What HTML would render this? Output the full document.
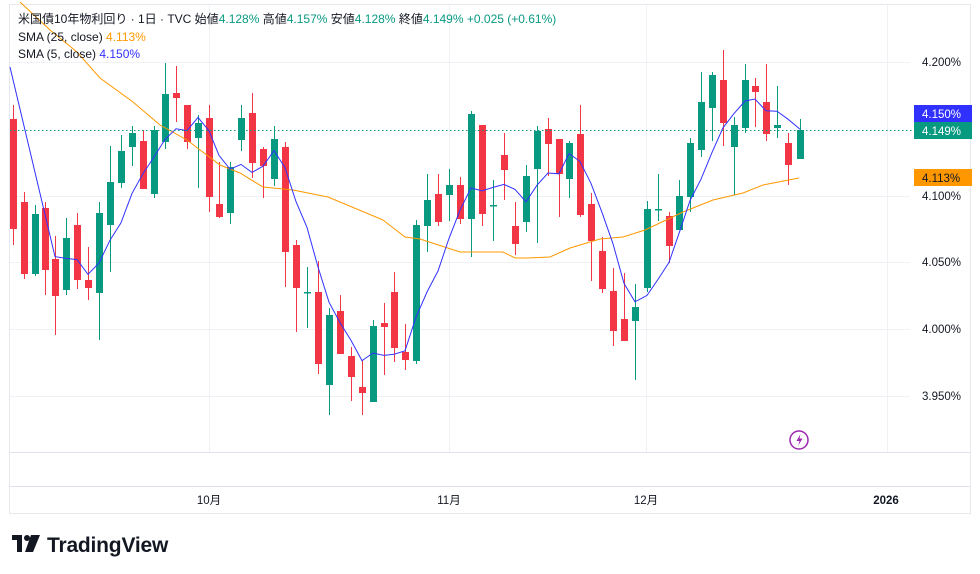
<!DOCTYPE html>
<html><head><meta charset="utf-8">
<style>
html,body{margin:0;padding:0;background:#fff;width:980px;height:574px;overflow:hidden}
svg{display:block}
text{font-family:"Liberation Sans","Noto Sans CJK JP",sans-serif}
</style></head>
<body>
<svg id="s" width="980" height="574" xmlns="http://www.w3.org/2000/svg">
<rect x="9.5" y="4.5" width="961" height="509" fill="#fff" stroke="#e6e8ee"/>
<g stroke="#f0f1f4" stroke-width="1">
<line x1="10" y1="62.5" x2="910" y2="62.5"/>
<line x1="10" y1="196.5" x2="910" y2="196.5"/>
<line x1="10" y1="262.5" x2="910" y2="262.5"/>
<line x1="10" y1="329.5" x2="910" y2="329.5"/>
<line x1="10" y1="396.5" x2="910" y2="396.5"/>
<line x1="209.5" y1="5" x2="209.5" y2="452"/>
<line x1="449.5" y1="5" x2="449.5" y2="452"/>
<line x1="646.5" y1="5" x2="646.5" y2="452"/>
<line x1="887.5" y1="5" x2="887.5" y2="452"/>
</g>
<line x1="10" y1="452.5" x2="970" y2="452.5" stroke="#e0e3eb"/>
<line x1="10" y1="486.5" x2="970" y2="486.5" stroke="#e0e3eb"/>
<g id="c"></g>
<line x1="10" y1="130.5" x2="912" y2="130.5" stroke="#089981" stroke-dasharray="1.5,2.5"/>
<g font-size="11.5" fill="#131722">
<text x="922" y="66">4.200%</text>
<text x="922" y="200">4.100%</text>
<text x="922" y="266">4.050%</text>
<text x="922" y="333">4.000%</text>
<text x="922" y="400">3.950%</text>
</g>
<rect x="914" y="105" width="58" height="17" fill="#3131ff"/>
<text x="922" y="118" font-size="11.5" fill="#fff">4.150%</text>
<rect x="914" y="122" width="58" height="17" fill="#089981"/>
<text x="922" y="135" font-size="11.5" fill="#fff">4.149%</text>
<rect x="914" y="169" width="58" height="17" fill="#ff9800"/>
<text x="922" y="182" font-size="11.5" fill="#131722">4.113%</text>
<circle cx="799" cy="440" r="9" fill="none" stroke="#9c27b0" stroke-width="1.5"/>
<path d="M800.5 434 L796.5 441 L799.5 441 L798 446 L802.5 438.5 L799.5 438.5 Z" fill="#9c27b0"/>
<g font-size="11.5" fill="#131722" text-anchor="middle">
<text x="209" y="504">10月</text>
<text x="449" y="504">11月</text>
<text x="646" y="504">12月</text>
<text x="886" y="504" font-weight="bold">2026</text>
</g>
<g font-size="12">
<text x="18" y="23" fill="#131722">米国債10年物利回り · 1日 · TVC  始値<tspan fill="#089981">4.128%</tspan>  高値<tspan fill="#089981">4.157%</tspan>  安値<tspan fill="#089981">4.128%</tspan>  終値<tspan fill="#089981">4.149%</tspan>  <tspan fill="#089981">+0.025 (+0.61%)</tspan></text>
<text x="18" y="41" fill="#131722">SMA (25, close)  <tspan fill="#ff9800">4.113%</tspan></text>
<text x="18" y="58" fill="#131722">SMA (5, close)  <tspan fill="#3131ff">4.150%</tspan></text>
</g>
<g fill="#131722">
<rect x="12" y="535" width="10" height="5"/>
<rect x="17" y="535" width="5" height="17"/>
<circle cx="27" cy="538" r="3"/>
<path d="M31 535 L40 535 L33 552 L25 552 Z"/>
<text x="47" y="552" font-size="21" font-weight="bold" letter-spacing="-0.2">TradingView</text>
</g>
</svg>
<script>
var d=[[13,119,229,105,245,'r'],[24,202,274,192,279,'r'],[35,214,274,205,276,'g'],[45,208,270,202,295,'r'],[55,259,296,236,335,'r'],[66,238,290,218,295,'g'],[77,225,280,213,289,'r'],[88,280,288,247,300,'r'],[99,213,293,202,340,'g'],[110,182,225,146,272,'g'],[121,151,183,135,188,'g'],[132,133,147,126,166,'g'],[143,141,189,130,189,'r'],[154,130,194,126,198,'g'],[165,94,142,63,149,'g'],[176,93,98,66,122,'r'],[187,105,142,105,149,'r'],[198,123,138,115,188,'g'],[209,118,197,105,212,'r'],[219,204,217,162,218,'r'],[230,167,213,162,224,'g'],[241,118,140,105,151,'g'],[252,113,163,93,178,'r'],[263,149,166,147,198,'r'],[274,139,179,126,186,'g'],[285,147,252,142,287,'r'],[296,245,288,240,332,'r'],[307,292,293,267,328,'g'],[318,292,364,261,374,'r'],[329,315,385,308,415,'g'],[340,311,354,295,354,'r'],[351,356,377,347,401,'r'],[362,387,393,360,415,'r'],[373,326,402,320,402,'g'],[384,323,327,303,375,'r'],[394,292,348,272,362,'r'],[405,352,360,324,370,'r'],[416,225,361,220,364,'g'],[427,200,226,174,252,'g'],[438,194,222,174,226,'r'],[449,185,195,169,221,'g'],[460,185,219,177,224,'r'],[471,114,219,111,257,'g'],[482,125,214,125,226,'r'],[493,205,206,180,241,'g'],[504,155,170,133,200,'r'],[515,226,244,202,255,'r'],[526,176,222,165,232,'g'],[537,131,169,126,243,'g'],[548,129,144,118,176,'r'],[559,139,174,139,217,'r'],[569,143,179,141,198,'g'],[580,134,215,105,217,'r'],[591,204,241,193,281,'r'],[602,251,289,237,293,'r'],[613,291,331,268,346,'r'],[624,319,341,273,341,'r'],[635,307,321,284,380,'g'],[647,209,288,201,292,'g'],[658,209,210,174,221,'g'],[669,216,246,212,263,'r'],[679,196,230,180,230,'g'],[690,143,197,138,212,'g'],[701,102,150,72,157,'g'],[712,75,108,72,141,'g'],[723,80,123,50,146,'r'],[734,125,147,117,195,'g'],[745,80,128,64,133,'g'],[755,86,92,78,127,'r'],[766,102,134,64,141,'r'],[777,125,128,86,138,'g'],[788,143,165,133,185,'r'],[800,130,159,119,159,'g']];
var g=document.getElementById('c'),h='';
d.forEach(function(c){var col=c[5]=='r'?'#f23645':'#089981';
h+='<line x1="'+(c[0]+.5)+'" y1="'+c[3]+'" x2="'+(c[0]+.5)+'" y2="'+c[4]+'" stroke="'+col+'"/>';
h+='<rect x="'+(c[0]-3)+'" y="'+c[1]+'" width="7" height="'+Math.max(1.5,c[2]-c[1])+'" fill="'+col+'"/>';});
var cl=d.map(function(c){return c[5]=='r'?c[2]:c[1];});
var p='10,67';
for(var i=4;i<d.length;i++){var s=0;for(var j=i-4;j<=i;j++)s+=cl[j];p+=' '+d[i][0]+','+(s/5).toFixed(1);}
var o='20,2 50,30 77,52 100,78 133,102 160,125 187,140 220,165 240,173 263,187 293,190 328,197 383,220 405,237 420,239 460,252 503,252 515,258 527,258 550,257 570,248 600,239 623,237 645,230 683,212 713,200 743,193 763,185 799,178';
h+='<polyline points="'+o+'" fill="none" stroke="#ff9800" stroke-width="1"/>';
h+='<polyline points="'+p+'" fill="none" stroke="#3131ff" stroke-width="1"/>';
g.innerHTML=h;
</script>
</body></html>
